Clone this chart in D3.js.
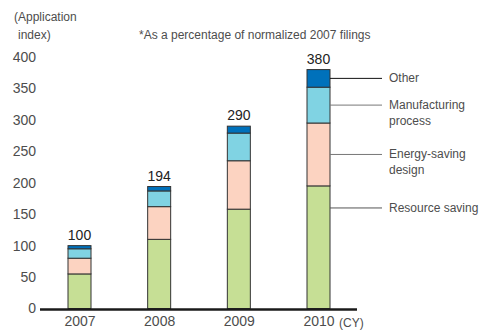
<!DOCTYPE html>
<html>
<head>
<meta charset="utf-8">
<script src="https://cdn.jsdelivr.net/npm/d3@7/dist/d3.min.js"></script>
<style>
  html, body { margin: 0; padding: 0; background: #fff; }
  svg { display: block; font-family: "Liberation Sans", Arial, sans-serif; }
</style>
</head>
<body>
<svg id="chart" width="490" height="330"></svg>
<script>
// Application index by field (normalized 2007 filings = 100)
const years = ["2007", "2008", "2009", "2010"];
const resourceSaving = [55, 110, 158, 195];
const energySavingDesign = [25, 52, 77, 100];
const manufacturingProcess = [15, 25, 44, 57];
const other = [5, 7, 11, 28];
const totals = [100, 194, 290, 380];
const yTicks = [0, 50, 100, 150, 200, 250, 300, 350, 400];

const seriesNames = ["Resource saving", "Energy-saving design", "Manufacturing process", "Other"];
const seriesLabels = [["Resource saving"], ["Energy-saving", "design"], ["Manufacturing", "process"], ["Other"]];
const seriesColors = ["#c6df95", "#fcd3c1", "#80d3e3", "#0071bb"];
const leaderColors = ["#555", "#777", "#777", "#111"];

const rows = years.map((y, i) => ({
  year: y,
  "Resource saving": resourceSaving[i],
  "Energy-saving design": energySavingDesign[i],
  "Manufacturing process": manufacturingProcess[i],
  "Other": other[i],
  total: totals[i]
}));

const textColor = "#4d4d4d";
const svg = d3.select("#chart");

const x = d3.scalePoint().domain(years).range([79.5, 318.5]);
const y = d3.scaleLinear().domain([0, 400]).range([308.5, 57]);
const barW = 23;

const stack = d3.stack().keys(seriesNames);
const layers = stack(rows);

// stacked bars
const g = svg.append("g");
layers.forEach((layer, li) => {
  g.selectAll(null)
    .data(layer)
    .join("rect")
    .attr("x", d => x(d.data.year) - barW / 2)
    .attr("y", d => y(d[1]))
    .attr("width", barW)
    .attr("height", d => y(d[0]) - y(d[1]))
    .attr("fill", seriesColors[li])
    .attr("stroke", "#333")
    .attr("stroke-width", 1);
});

// total labels
svg.append("g").selectAll("text")
  .data(rows)
  .join("text")
  .attr("x", d => x(d.year))
  .attr("y", d => y(d.total) - 6)
  .attr("text-anchor", "middle")
  .attr("font-size", 14)
  .attr("fill", "#222")
  .text(d => d.total);

// y axis tick labels
const yAxis = d3.axisLeft(y).tickValues(yTicks).tickSize(0).tickPadding(0);
const ya = svg.append("g").attr("transform", "translate(36,0)").call(yAxis);
ya.select(".domain").remove();
ya.selectAll("text")
  .attr("font-size", 14)
  .attr("font-family", "Liberation Sans, Arial, sans-serif")
  .attr("fill", textColor);

// x axis baseline
svg.append("line")
  .attr("x1", 40).attr("x2", 357)
  .attr("y1", y(0) + 1).attr("y2", y(0) + 1)
  .attr("stroke", "#1a1a1a")
  .attr("stroke-width", 2.5);

// year labels
const xAxis = d3.axisBottom(x).tickSize(0).tickPadding(0);
const xa = svg.append("g").attr("transform", `translate(0,${y(0) + 8})`).call(xAxis);
xa.select(".domain").remove();
xa.selectAll("text")
  .attr("font-size", 14)
  .attr("font-family", "Liberation Sans, Arial, sans-serif")
  .attr("fill", textColor);

svg.append("text")
  .attr("x", 339).attr("y", 327)
  .attr("font-size", 12)
  .attr("fill", textColor)
  .text("(CY)");

// axis title and note
svg.append("text").attr("x", 14).attr("y", 21).attr("font-size", 12).attr("fill", textColor).text("(Application");
svg.append("text").attr("x", 18).attr("y", 39).attr("font-size", 12).attr("fill", textColor).text("index)");
svg.append("text").attr("x", 139).attr("y", 39).attr("font-size", 12).attr("fill", textColor)
  .text("*As a percentage of normalized 2007 filings");

// series labels with leader lines from the 2010 bar
const last = layers.map(l => l[l.length - 1]);
const anchorFrac = [0.82, 0.5, 0.5, 0.5];
const lx0 = x("2010") + barW / 2;
last.forEach((d, i) => {
  const ly = y(d[0] + (d[1] - d[0]) * anchorFrac[i]);
  svg.append("line")
    .attr("x1", lx0).attr("x2", 382)
    .attr("y1", ly).attr("y2", ly)
    .attr("stroke", leaderColors[i])
    .attr("stroke-width", 1);
  const t = svg.append("text")
    .attr("x", 389)
    .attr("y", ly + 4)
    .attr("font-size", 12)
    .attr("fill", textColor);
  seriesLabels[i].forEach((s, k) => {
    t.append("tspan").attr("x", 389).attr("dy", k === 0 ? 0 : 15.5).text(s);
  });
});
</script>
</body>
</html>
